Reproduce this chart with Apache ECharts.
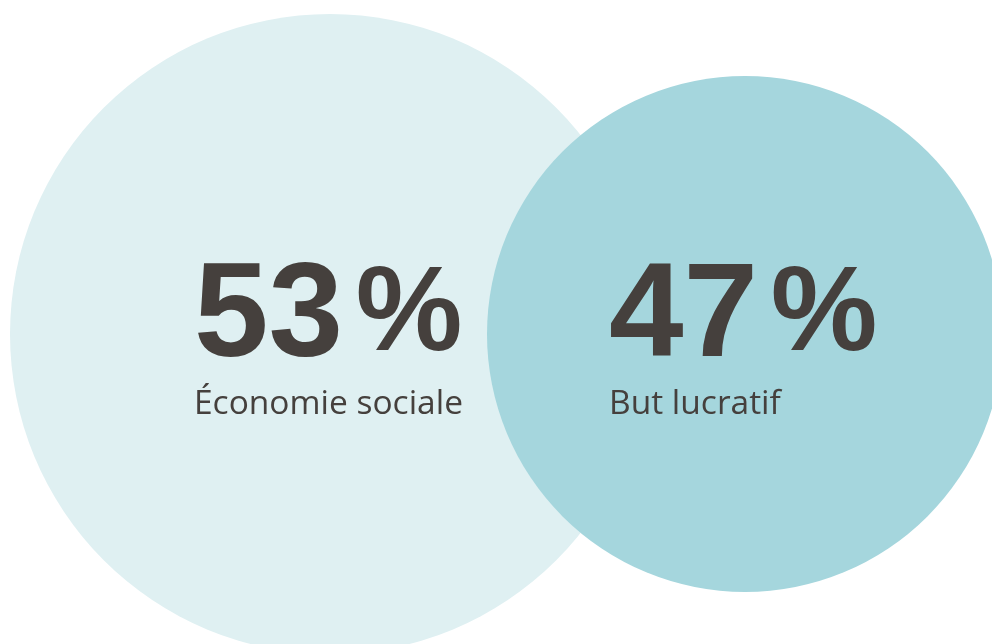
<!DOCTYPE html>
<html>
<head>
<meta charset="utf-8">
<script src="https://cdn.jsdelivr.net/npm/echarts@6/dist/echarts.min.js"></script>
<style>
html,body{margin:0;padding:0;background:#ffffff;}
#chart{width:992px;height:644px;}
</style>
</head>
<body>
<div id="chart"></div>
<script>
// Data
const categories = ['Économie sociale', 'But lucratif'];
const values = [53, 47];
const valueSuffix = '%';

// Styles
const circleColors = ['#dff0f2', '#a5d6dd'];
const textColor = '#45403d';

const chart = echarts.init(document.getElementById('chart'), null, {renderer: 'canvas'});

function sizeFor(v) {
  // diameter encoding of the share
  return 516 + (v - 47) * (124 / 6);
}

const option = {
  animation: false,
  grid: {left: 122.5, width: 830, top: 24, height: 620},
  xAxis: {type: 'category', data: categories, show: false, boundaryGap: true},
  yAxis: {type: 'value', min: -1, max: 1, show: false},
  series: [{
    type: 'scatter',
    symbol: 'circle',
    symbolSize: function (val) { return sizeFor(val[2]); },
    emphasis: {disabled: true},
    silent: true,
    data: values.map(function (v, i) {
      return {
        name: categories[i],
        value: [categories[i], 0, v],
        itemStyle: {color: circleColors[i], opacity: 1},
        label: {
          show: true,
          position: 'inside',
          align: 'left',
          verticalAlign: 'middle',
          offset: [-136, 6],
          formatter: '{num|' + v + '}{sp| }{pct|' + valueSuffix + '}\n{sub|' + categories[i] + '}',
          rich: {
            num: {fontFamily: 'Liberation Sans', fontWeight: 'bold', fontSize: 134, lineHeight: 128, color: textColor},
            sp: {fontFamily: 'Liberation Sans', fontSize: 46, lineHeight: 128},
            pct: {fontFamily: 'Liberation Sans', fontWeight: 'bold', fontSize: 120, lineHeight: 128, padding: [0, 0, 5, 0], color: textColor},
            sub: {fontFamily: 'Open Sans', fontWeight: 'normal', fontSize: 33.5, lineHeight: 42, color: textColor}
          }
        }
      };
    })
  }]
};
chart.setOption(option);
</script>
</body>
</html>
